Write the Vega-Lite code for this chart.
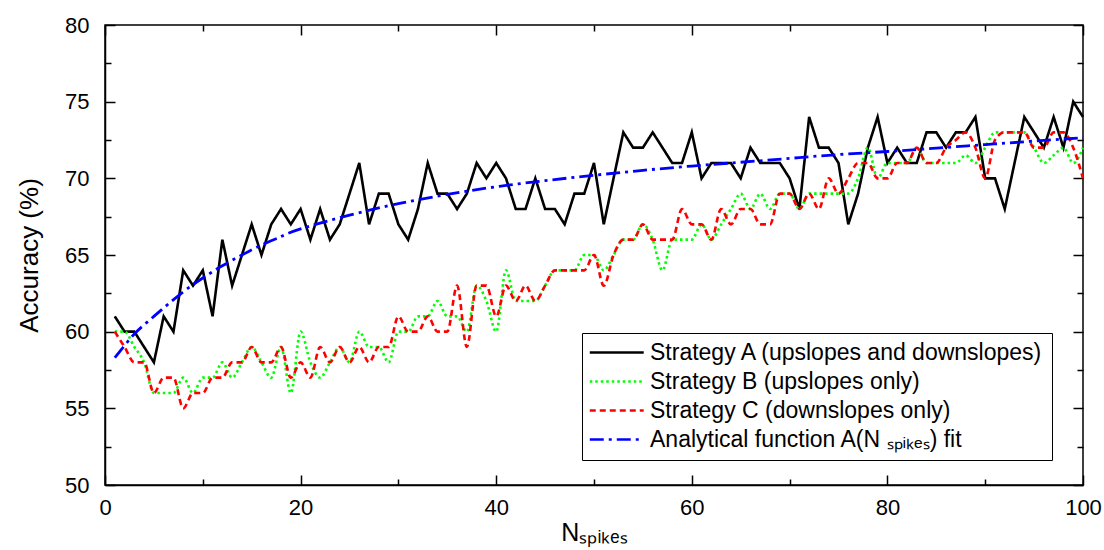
{
  "$schema": "https://vega.github.io/schema/vega-lite/v6.json",
  "width": 978,
  "height": 460,
  "autosize": {"type": "none"},
  "padding": {"left": 105, "top": 25, "right": 21, "bottom": 65},
  "background": "white",
  "config": {
    "font": "Liberation Sans",
    "view": {"stroke": "black", "strokeWidth": 1.5},
    "axis": {
      "grid": false,
      "domainColor": "black",
      "domainWidth": 1.5,
      "tickColor": "black",
      "tickWidth": 1.5,
      "labelColor": "black",
      "titleColor": "black",
      "labelFont": "Liberation Sans",
      "titleFont": "Liberation Sans",
      "titleFontWeight": "normal",
      "labelFlush": false,
      "labelOverlap": false
    },
    "legend": {
      "orient": "none",
      "legendX": 477,
      "legendY": 308,
      "strokeColor": "black",
      "fillColor": "white",
      "padding": 8,
      "labelFont": "Liberation Sans",
      "labelFontSize": 23,
      "labelColor": "black",
      "symbolType": "M-1.74,0H6.26",
      "symbolSize": 182,
      "symbolStrokeWidth": 2.4,
      "rowPadding": 5,
      "labelOffset": 37,
      "labelLimit": 600
    }
  },
  "datasets": {
    "A": [
      {"n":1,"acc":61,"s":"A"},{"n":2,"acc":60,"s":"A"},{"n":3,"acc":60,"s":"A"},{"n":4,"acc":59,"s":"A"},{"n":5,"acc":58,"s":"A"},
      {"n":6,"acc":61,"s":"A"},{"n":7,"acc":60,"s":"A"},{"n":8,"acc":64,"s":"A"},{"n":9,"acc":63,"s":"A"},{"n":10,"acc":64,"s":"A"},
      {"n":11,"acc":61,"s":"A"},{"n":12,"acc":66,"s":"A"},{"n":13,"acc":63,"s":"A"},{"n":14,"acc":65,"s":"A"},{"n":15,"acc":67,"s":"A"},
      {"n":16,"acc":65,"s":"A"},{"n":17,"acc":67,"s":"A"},{"n":18,"acc":68,"s":"A"},{"n":19,"acc":67,"s":"A"},{"n":20,"acc":68,"s":"A"},
      {"n":21,"acc":66,"s":"A"},{"n":22,"acc":68,"s":"A"},{"n":23,"acc":66,"s":"A"},{"n":24,"acc":67,"s":"A"},{"n":25,"acc":69,"s":"A"},
      {"n":26,"acc":71,"s":"A"},{"n":27,"acc":67,"s":"A"},{"n":28,"acc":69,"s":"A"},{"n":29,"acc":69,"s":"A"},{"n":30,"acc":67,"s":"A"},
      {"n":31,"acc":66,"s":"A"},{"n":32,"acc":68,"s":"A"},{"n":33,"acc":71,"s":"A"},{"n":34,"acc":69,"s":"A"},{"n":35,"acc":69,"s":"A"},
      {"n":36,"acc":68,"s":"A"},{"n":37,"acc":69,"s":"A"},{"n":38,"acc":71,"s":"A"},{"n":39,"acc":70,"s":"A"},{"n":40,"acc":71,"s":"A"},
      {"n":41,"acc":70,"s":"A"},{"n":42,"acc":68,"s":"A"},{"n":43,"acc":68,"s":"A"},{"n":44,"acc":70,"s":"A"},{"n":45,"acc":68,"s":"A"},
      {"n":46,"acc":68,"s":"A"},{"n":47,"acc":67,"s":"A"},{"n":48,"acc":69,"s":"A"},{"n":49,"acc":69,"s":"A"},{"n":50,"acc":71,"s":"A"},
      {"n":51,"acc":67,"s":"A"},{"n":52,"acc":70,"s":"A"},{"n":53,"acc":73,"s":"A"},{"n":54,"acc":72,"s":"A"},{"n":55,"acc":72,"s":"A"},
      {"n":56,"acc":73,"s":"A"},{"n":57,"acc":72,"s":"A"},{"n":58,"acc":71,"s":"A"},{"n":59,"acc":71,"s":"A"},{"n":60,"acc":73,"s":"A"},
      {"n":61,"acc":70,"s":"A"},{"n":62,"acc":71,"s":"A"},{"n":63,"acc":71,"s":"A"},{"n":64,"acc":71,"s":"A"},{"n":65,"acc":70,"s":"A"},
      {"n":66,"acc":72,"s":"A"},{"n":67,"acc":71,"s":"A"},{"n":68,"acc":71,"s":"A"},{"n":69,"acc":71,"s":"A"},{"n":70,"acc":70,"s":"A"},
      {"n":71,"acc":68,"s":"A"},{"n":72,"acc":74,"s":"A"},{"n":73,"acc":72,"s":"A"},{"n":74,"acc":72,"s":"A"},{"n":75,"acc":71,"s":"A"},
      {"n":76,"acc":67,"s":"A"},{"n":77,"acc":69,"s":"A"},{"n":78,"acc":72,"s":"A"},{"n":79,"acc":74,"s":"A"},{"n":80,"acc":71,"s":"A"},
      {"n":81,"acc":72,"s":"A"},{"n":82,"acc":71,"s":"A"},{"n":83,"acc":71,"s":"A"},{"n":84,"acc":73,"s":"A"},{"n":85,"acc":73,"s":"A"},
      {"n":86,"acc":72,"s":"A"},{"n":87,"acc":73,"s":"A"},{"n":88,"acc":73,"s":"A"},{"n":89,"acc":74,"s":"A"},{"n":90,"acc":70,"s":"A"},
      {"n":91,"acc":70,"s":"A"},{"n":92,"acc":68,"s":"A"},{"n":93,"acc":71,"s":"A"},{"n":94,"acc":74,"s":"A"},{"n":95,"acc":73,"s":"A"},
      {"n":96,"acc":72,"s":"A"},{"n":97,"acc":74,"s":"A"},{"n":98,"acc":72,"s":"A"},{"n":99,"acc":75,"s":"A"},{"n":100,"acc":74,"s":"A"}
    ],
    "BC": [
      {"n":1,"acc":60,"s":"B"},{"n":2,"acc":60,"s":"B"},{"n":3,"acc":59,"s":"B"},{"n":4,"acc":58,"s":"B"},{"n":5,"acc":56,"s":"B"},
      {"n":6,"acc":56,"s":"B"},{"n":7,"acc":56,"s":"B"},{"n":8,"acc":57,"s":"B"},{"n":9,"acc":56,"s":"B"},{"n":10,"acc":57,"s":"B"},
      {"n":11,"acc":57,"s":"B"},{"n":12,"acc":58,"s":"B"},{"n":13,"acc":57,"s":"B"},{"n":14,"acc":58,"s":"B"},{"n":15,"acc":59,"s":"B"},
      {"n":16,"acc":58,"s":"B"},{"n":17,"acc":57,"s":"B"},{"n":18,"acc":59,"s":"B"},{"n":19,"acc":56,"s":"B"},{"n":20,"acc":60,"s":"B"},
      {"n":21,"acc":58,"s":"B"},{"n":22,"acc":57,"s":"B"},{"n":23,"acc":58,"s":"B"},{"n":24,"acc":59,"s":"B"},{"n":25,"acc":58,"s":"B"},
      {"n":26,"acc":60,"s":"B"},{"n":27,"acc":59,"s":"B"},{"n":28,"acc":59,"s":"B"},{"n":29,"acc":58,"s":"B"},{"n":30,"acc":60,"s":"B"},
      {"n":31,"acc":60,"s":"B"},{"n":32,"acc":61,"s":"B"},{"n":33,"acc":61,"s":"B"},{"n":34,"acc":62,"s":"B"},{"n":35,"acc":61,"s":"B"},
      {"n":36,"acc":61,"s":"B"},{"n":37,"acc":60,"s":"B"},{"n":38,"acc":63,"s":"B"},{"n":39,"acc":62,"s":"B"},{"n":40,"acc":60,"s":"B"},
      {"n":41,"acc":64,"s":"B"},{"n":42,"acc":62,"s":"B"},{"n":43,"acc":62,"s":"B"},{"n":44,"acc":62,"s":"B"},{"n":45,"acc":63,"s":"B"},
      {"n":46,"acc":64,"s":"B"},{"n":47,"acc":64,"s":"B"},{"n":48,"acc":64,"s":"B"},{"n":49,"acc":65,"s":"B"},{"n":50,"acc":65,"s":"B"},
      {"n":51,"acc":64,"s":"B"},{"n":52,"acc":65,"s":"B"},{"n":53,"acc":66,"s":"B"},{"n":54,"acc":66,"s":"B"},{"n":55,"acc":67,"s":"B"},
      {"n":56,"acc":66,"s":"B"},{"n":57,"acc":64,"s":"B"},{"n":58,"acc":66,"s":"B"},{"n":59,"acc":66,"s":"B"},{"n":60,"acc":66,"s":"B"},
      {"n":61,"acc":67,"s":"B"},{"n":62,"acc":66,"s":"B"},{"n":63,"acc":67,"s":"B"},{"n":64,"acc":68,"s":"B"},{"n":65,"acc":69,"s":"B"},
      {"n":66,"acc":68,"s":"B"},{"n":67,"acc":69,"s":"B"},{"n":68,"acc":68,"s":"B"},{"n":69,"acc":69,"s":"B"},{"n":70,"acc":69,"s":"B"},
      {"n":71,"acc":68,"s":"B"},{"n":72,"acc":69,"s":"B"},{"n":73,"acc":69,"s":"B"},{"n":74,"acc":69,"s":"B"},{"n":75,"acc":69,"s":"B"},
      {"n":76,"acc":69,"s":"B"},{"n":77,"acc":70,"s":"B"},{"n":78,"acc":72,"s":"B"},{"n":79,"acc":70,"s":"B"},{"n":80,"acc":71,"s":"B"},
      {"n":81,"acc":71,"s":"B"},{"n":82,"acc":71,"s":"B"},{"n":83,"acc":72,"s":"B"},{"n":84,"acc":71,"s":"B"},{"n":85,"acc":71,"s":"B"},
      {"n":86,"acc":71,"s":"B"},{"n":87,"acc":71,"s":"B"},{"n":88,"acc":71.5,"s":"B"},{"n":89,"acc":71,"s":"B"},{"n":90,"acc":72,"s":"B"},
      {"n":91,"acc":73,"s":"B"},{"n":92,"acc":73,"s":"B"},{"n":93,"acc":73,"s":"B"},{"n":94,"acc":73,"s":"B"},{"n":95,"acc":72,"s":"B"},
      {"n":96,"acc":71,"s":"B"},{"n":97,"acc":71.5,"s":"B"},{"n":98,"acc":72,"s":"B"},{"n":99,"acc":71,"s":"B"},{"n":100,"acc":72,"s":"B"},
      {"n":1,"acc":60,"s":"C"},{"n":2,"acc":59,"s":"C"},{"n":3,"acc":58,"s":"C"},{"n":4,"acc":58,"s":"C"},{"n":5,"acc":56,"s":"C"},
      {"n":6,"acc":57,"s":"C"},{"n":7,"acc":57,"s":"C"},{"n":8,"acc":55,"s":"C"},{"n":9,"acc":56,"s":"C"},{"n":10,"acc":56,"s":"C"},
      {"n":11,"acc":57,"s":"C"},{"n":12,"acc":57,"s":"C"},{"n":13,"acc":58,"s":"C"},{"n":14,"acc":58,"s":"C"},{"n":15,"acc":59,"s":"C"},
      {"n":16,"acc":58,"s":"C"},{"n":17,"acc":58,"s":"C"},{"n":18,"acc":59,"s":"C"},{"n":19,"acc":57,"s":"C"},{"n":20,"acc":58,"s":"C"},
      {"n":21,"acc":57,"s":"C"},{"n":22,"acc":59,"s":"C"},{"n":23,"acc":58,"s":"C"},{"n":24,"acc":59,"s":"C"},{"n":25,"acc":58,"s":"C"},
      {"n":26,"acc":59,"s":"C"},{"n":27,"acc":58,"s":"C"},{"n":28,"acc":59,"s":"C"},{"n":29,"acc":59,"s":"C"},{"n":30,"acc":61,"s":"C"},
      {"n":31,"acc":60,"s":"C"},{"n":32,"acc":60,"s":"C"},{"n":33,"acc":61,"s":"C"},{"n":34,"acc":60,"s":"C"},{"n":35,"acc":60,"s":"C"},
      {"n":36,"acc":63,"s":"C"},{"n":37,"acc":59,"s":"C"},{"n":38,"acc":63,"s":"C"},{"n":39,"acc":63,"s":"C"},{"n":40,"acc":61,"s":"C"},
      {"n":41,"acc":63,"s":"C"},{"n":42,"acc":62,"s":"C"},{"n":43,"acc":63,"s":"C"},{"n":44,"acc":62,"s":"C"},{"n":45,"acc":63,"s":"C"},
      {"n":46,"acc":64,"s":"C"},{"n":47,"acc":64,"s":"C"},{"n":48,"acc":64,"s":"C"},{"n":49,"acc":64,"s":"C"},{"n":50,"acc":65,"s":"C"},
      {"n":51,"acc":63,"s":"C"},{"n":52,"acc":65,"s":"C"},{"n":53,"acc":66,"s":"C"},{"n":54,"acc":66,"s":"C"},{"n":55,"acc":67,"s":"C"},
      {"n":56,"acc":66,"s":"C"},{"n":57,"acc":66,"s":"C"},{"n":58,"acc":66,"s":"C"},{"n":59,"acc":68,"s":"C"},{"n":60,"acc":67,"s":"C"},
      {"n":61,"acc":67,"s":"C"},{"n":62,"acc":66,"s":"C"},{"n":63,"acc":68,"s":"C"},{"n":64,"acc":67,"s":"C"},{"n":65,"acc":68,"s":"C"},
      {"n":66,"acc":68,"s":"C"},{"n":67,"acc":67,"s":"C"},{"n":68,"acc":67,"s":"C"},{"n":69,"acc":69,"s":"C"},{"n":70,"acc":69,"s":"C"},
      {"n":71,"acc":68,"s":"C"},{"n":72,"acc":69,"s":"C"},{"n":73,"acc":68,"s":"C"},{"n":74,"acc":70,"s":"C"},{"n":75,"acc":69,"s":"C"},
      {"n":76,"acc":70,"s":"C"},{"n":77,"acc":71,"s":"C"},{"n":78,"acc":71,"s":"C"},{"n":79,"acc":70,"s":"C"},{"n":80,"acc":70,"s":"C"},
      {"n":81,"acc":71,"s":"C"},{"n":82,"acc":71,"s":"C"},{"n":83,"acc":72,"s":"C"},{"n":84,"acc":71,"s":"C"},{"n":85,"acc":71,"s":"C"},
      {"n":86,"acc":72,"s":"C"},{"n":87,"acc":72.5,"s":"C"},{"n":88,"acc":73,"s":"C"},{"n":89,"acc":72,"s":"C"},{"n":90,"acc":70,"s":"C"},
      {"n":91,"acc":72.5,"s":"C"},{"n":92,"acc":73,"s":"C"},{"n":93,"acc":73,"s":"C"},{"n":94,"acc":73,"s":"C"},{"n":95,"acc":72,"s":"C"},
      {"n":96,"acc":72,"s":"C"},{"n":97,"acc":73,"s":"C"},{"n":98,"acc":73,"s":"C"},{"n":99,"acc":72,"s":"C"},{"n":100,"acc":70,"s":"C"}
    ],
    "F": [
      {"n":1,"acc":58.3,"s":"F"},{"n":2,"acc":59.1,"s":"F"},{"n":3,"acc":59.85,"s":"F"},{"n":4,"acc":60.45,"s":"F"},{"n":5,"acc":61.0,"s":"F"},
      {"n":6,"acc":61.55,"s":"F"},{"n":8,"acc":62.6,"s":"F"},{"n":10,"acc":63.5,"s":"F"},{"n":12,"acc":64.3,"s":"F"},{"n":14,"acc":65.0,"s":"F"},
      {"n":16,"acc":65.65,"s":"F"},{"n":18,"acc":66.2,"s":"F"},{"n":20,"acc":66.7,"s":"F"},{"n":25,"acc":67.6,"s":"F"},{"n":30,"acc":68.35,"s":"F"},
      {"n":35,"acc":68.95,"s":"F"},{"n":40,"acc":69.45,"s":"F"},{"n":45,"acc":69.85,"s":"F"},{"n":50,"acc":70.2,"s":"F"},{"n":55,"acc":70.52,"s":"F"},
      {"n":60,"acc":70.8,"s":"F"},{"n":65,"acc":71.05,"s":"F"},{"n":70,"acc":71.3,"s":"F"},{"n":75,"acc":71.55,"s":"F"},{"n":80,"acc":71.75,"s":"F"},
      {"n":85,"acc":71.97,"s":"F"},{"n":90,"acc":72.2,"s":"F"},{"n":95,"acc":72.43,"s":"F"},{"n":100,"acc":72.65,"s":"F"}
    ]
  },
  "resolve": {"axis": {"x": "independent", "y": "independent"}},
  "layer": [
    {
      "data": {"name": "A"},
      "mark": {"type": "line", "strokeWidth": 2.6, "interpolate": "linear"},
      "encoding": {
        "x": {
          "field": "n", "type": "quantitative",
          "scale": {"domain": [0, 100], "nice": false, "zero": false},
          "axis": {
            "values": [0,10,20,30,40,50,60,70,80,90,100],
            "labelExpr": "datum.value % 20 === 0 ? datum.label : ''",
            "tickSize": {"condition": {"test": "datum.value % 20 === 0", "value": -10}, "value": -6},
            "labelPadding": 22,
            "labelFontSize": 22,
            "title": "Nₛₚᵢₖₑₛ",
            "titleFontSize": 25,
            "titlePadding": -2
          }
        },
        "y": {
          "field": "acc", "type": "quantitative",
          "scale": {"domain": [50, 80], "nice": false, "zero": false},
          "axis": {
            "values": [50,52.5,55,57.5,60,62.5,65,67.5,70,72.5,75,77.5,80],
            "labelExpr": "datum.value % 5 === 0 ? datum.label : ''",
            "tickSize": {"condition": {"test": "datum.value % 5 === 0", "value": -10}, "value": -6},
            "labelPadding": 26,
            "labelFontSize": 22,
            "title": "Accuracy (%)",
            "titleFontSize": 26,
            "titlePadding": 22
          }
        },
        "color": {
          "field": "s", "type": "nominal",
          "scale": {"domain": ["A","B","C","F"], "range": ["#000000","#00ff00","#ff0000","#0000ff"]},
          "legend": {"title": null, "labelExpr": "{'A':'Strategy A (upslopes and downslopes)','B':'Strategy B (upslopes only)','C':'Strategy C (downslopes only)','F':'Analytical function A(N ₛₚᵢₖₑₛ) fit'}[datum.label]"}
        },
        "strokeDash": {
          "field": "s", "type": "nominal",
          "scale": {"domain": ["A","B","C","F"], "range": [[1,0],[2.5,3],[6,4],[14,5,3,5]]},
          "legend": {"title": null, "labelExpr": "{'A':'Strategy A (upslopes and downslopes)','B':'Strategy B (upslopes only)','C':'Strategy C (downslopes only)','F':'Analytical function A(N ₛₚᵢₖₑₛ) fit'}[datum.label]"}
        }
      }
    },
    {
      "data": {"name": "BC"},
      "mark": {"type": "line", "strokeWidth": 2.6, "interpolate": "monotone"},
      "encoding": {
        "x": {
          "field": "n", "type": "quantitative",
          "axis": {
            "orient": "top",
            "values": [0,10,20,30,40,50,60,70,80,90,100],
            "labels": false, "domain": false, "title": null,
            "tickSize": {"condition": {"test": "datum.value % 20 === 0", "value": -10}, "value": -6}
          }
        },
        "y": {
          "field": "acc", "type": "quantitative",
          "axis": {
            "orient": "right",
            "values": [50,52.5,55,57.5,60,62.5,65,67.5,70,72.5,75,77.5,80],
            "labels": false, "domain": false, "title": null,
            "tickSize": {"condition": {"test": "datum.value % 5 === 0", "value": -10}, "value": -6}
          }
        },
        "color": {"field": "s", "type": "nominal"},
        "strokeDash": {"field": "s", "type": "nominal"}
      }
    },
    {
      "data": {"name": "F"},
      "mark": {"type": "line", "strokeWidth": 2.8, "interpolate": "natural"},
      "encoding": {
        "x": {"field": "n", "type": "quantitative", "axis": null},
        "y": {"field": "acc", "type": "quantitative", "axis": null},
        "color": {"field": "s", "type": "nominal"},
        "strokeDash": {"field": "s", "type": "nominal"}
      }
    }
  ]
}
